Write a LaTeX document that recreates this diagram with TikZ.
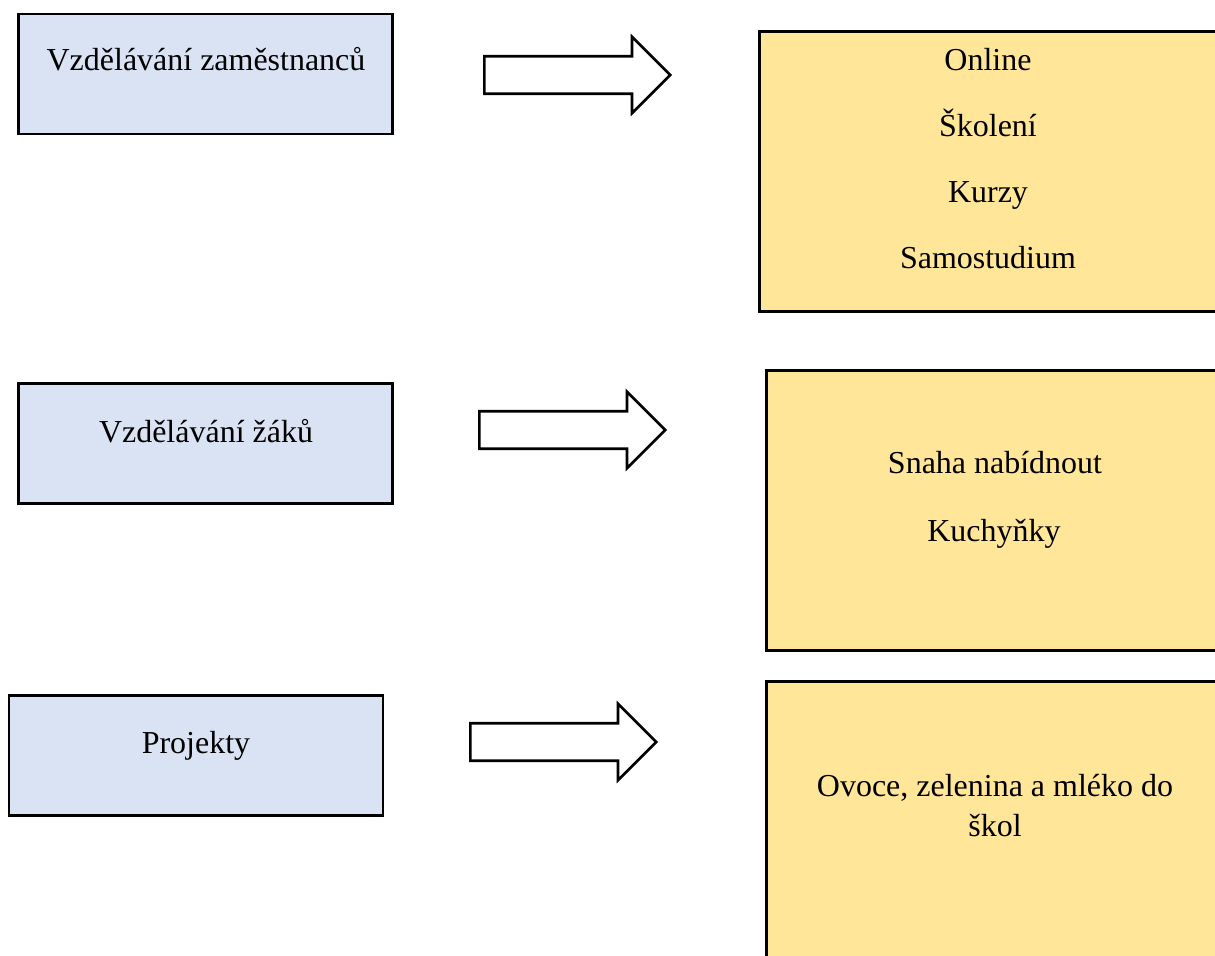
\documentclass[tikz,border=0pt]{standalone}
\usepackage{fontspec}
\setmainfont{Liberation Serif}
\newfontfamily\termes{Liberation Serif}
\usetikzlibrary{shapes.arrows}
\definecolor{boxblue}{HTML}{DAE3F3}
\definecolor{boxyellow}{HTML}{FFE699}

\begin{document}
\begin{tikzpicture}[x=0.02cm,y=-0.02cm,line width=1.5pt,
    every node/.style={font=\termes\fontsize{18.2}{21}\selectfont},
    topic/.style={draw,fill=boxblue,minimum width=7.48cm,minimum height=2.4cm,inner sep=0pt},
    detail/.style={draw,fill=boxyellow,anchor=north west,minimum width=9.5cm,inner sep=0pt},
    blockarrow/.style={single arrow,draw,fill=white,anchor=tail,minimum height=3.72cm,
      text height=0.35cm,text depth=0.35cm,single arrow head extend=0.39cm,inner sep=0pt}]
  \useasboundingbox (0,0) rectangle (1215,956);
  % left column
  \node[topic] (zam) at (205.5,74) {};
  \node[topic] (zaci) at (205.5,443.5) {};
  \node[topic] (proj) at (196,755.5) {};
  \node[anchor=base] (zamtext) at (206,71) {Vzdělávání zaměstnanců};
  \node[anchor=base] (zacitext) at (206,443) {Vzdělávání žáků};
  \node[anchor=base] (projtext) at (196,753) {Projekty};
  % arrows
  \node[blockarrow] (arr1) at (483,75) {};
  \node[blockarrow] (arr2) at (478,430) {};
  \node[blockarrow] (arr3) at (469,742) {};
  % right column
  \node[detail,minimum height=5.6cm] (formy) at (758,30) {};
  \node[detail,minimum height=5.6cm] (nabidka) at (765,369) {};
  \node[detail,minimum height=6cm] (ovoce) at (765,680) {};
  \foreach \t [count=\i] in {Online,Školení,Kurzy,Samostudium}
    \node[anchor=base] (forma\i) at (988,{70.7+66*(\i-1)}) {\t};
  \node[anchor=base] (snaha) at (995,474) {Snaha nabídnout};
  \node[anchor=base] (kuch) at (994,541) {Kuchyňky};
  \node[anchor=base] (ovoce1) at (995,796.7) {Ovoce, zelenina a mléko do};
  \node[anchor=base] (ovoce2) at (995,836.7) {škol};
\end{tikzpicture}
\end{document}
